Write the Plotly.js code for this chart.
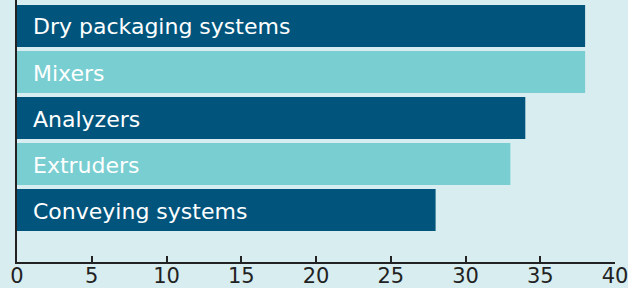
<!DOCTYPE html>
<html><head><meta charset="utf-8">
<script src="https://cdn.plot.ly/plotly-3.0.1.min.js"></script>
<style>html,body{margin:0;padding:0;background:#d7edf0;}</style>
</head><body>
<div id="chart" style="width:628px;height:288px;"></div>
<script>
const categories = ["Dry packaging systems", "Mixers", "Analyzers", "Extruders", "Conveying systems"];
const values = [38, 38, 34, 33, 28];
const barColors = ["#01557d", "#78ced1", "#01557d", "#78ced1", "#01557d"];
const tickVals = [0, 5, 10, 15, 20, 25, 30, 35, 40];

const trace = {
  type: "bar",
  orientation: "h",
  x: values,
  y: categories,
  marker: {color: barColors, line: {width: 0}},
  hoverinfo: "none"
};

const annotations = categories.map(c => ({
  x: 0, y: c, xref: "x", yref: "y",
  text: c, showarrow: false, xanchor: "left", yanchor: "middle",
  xshift: 14, yshift: -1,
  font: {family: "'DejaVu Sans', sans-serif", size: 22, color: "#ffffff"}
}));

const layout = {
  width: 628, height: 288,
  margin: {l: 17, r: 13, t: 0, b: 26, pad: 0},
  paper_bgcolor: "#d7edf0",
  plot_bgcolor: "#d7edf0",
  bargap: 0.087,
  showlegend: false,
  xaxis: {
    range: [0, 40], tickvals: tickVals, ticktext: tickVals.map(String),
    ticks: "inside", ticklen: 6, tickwidth: 2, tickcolor: "#222222",
    showline: true, linecolor: "#222222", linewidth: 2,
    showgrid: false, zeroline: false, fixedrange: true,
    ticklabeloverflow: "allow",
    ticklabelstandoff: -6,
    tickfont: {family: "'DejaVu Sans', sans-serif", size: 21, color: "#222222"}
  },
  yaxis: {
    type: "category", categoryorder: "array", categoryarray: categories,
    range: [5.13, -0.565],
    showline: true, linecolor: "#222222", linewidth: 2,
    showticklabels: false, ticks: "", showgrid: false, zeroline: false
  },
  annotations: annotations
};

Plotly.newPlot("chart", [trace], layout, {displayModeBar: false, staticPlot: true});
</script>
</body></html>
